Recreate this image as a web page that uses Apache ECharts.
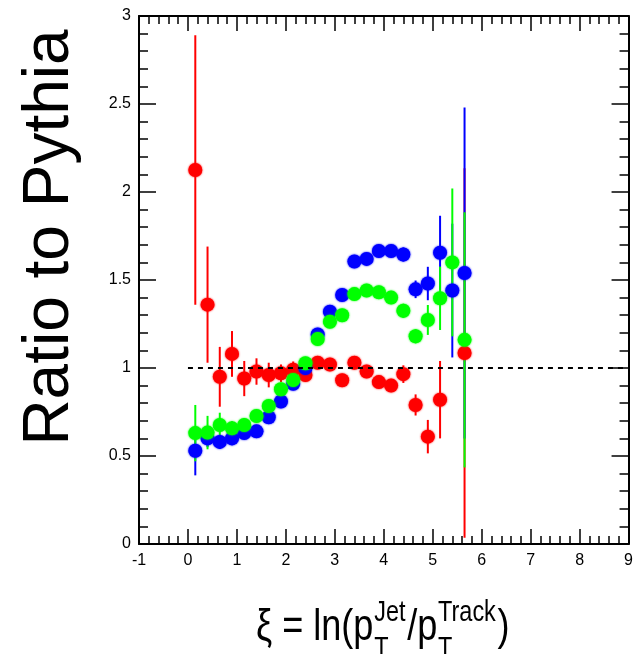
<!DOCTYPE html>
<html>
<head>
<meta charset="utf-8">
<script src="https://cdn.jsdelivr.net/npm/echarts@6/dist/echarts.min.js"></script>
<style>
html,body{margin:0;padding:0;background:#fff;}
#chart{width:636px;height:654px;}
</style>
</head>
<body>
<div id="chart"></div>
<script>
// ---- data ----
const xiBins = [0.15, 0.40, 0.65, 0.90, 1.15, 1.40, 1.65, 1.90, 2.15, 2.40, 2.65, 2.90,
                3.15, 3.40, 3.65, 3.90, 4.15, 4.40, 4.65, 4.90, 5.15, 5.40, 5.65];

const redRatio = [2.125, 1.36, 0.95, 1.08, 0.94, 0.98, 0.96, 0.97, 0.99, 0.96, 1.03, 1.02,
                  0.93, 1.03, 0.98, 0.92, 0.90, 0.965, 0.79, 0.61, 0.82, null, 1.085];
const redErr   = [0.765, 0.33, 0.17, 0.13, 0.10, 0.075, 0.07, 0.05, 0.047, 0.035, 0.035, 0.03,
                  0.03, 0.03, 0.03, 0.03, 0.03, 0.05, 0.06, 0.095, 0.22, null, 1.05];

const blueRatio = [0.53, 0.60, 0.58, 0.60, 0.63, 0.64, 0.72, 0.81, 0.91, 1.00, 1.19, 1.32,
                   1.415, 1.605, 1.62, 1.665, 1.665, 1.645, 1.447, 1.48, 1.655, 1.44, 1.54];
const blueErr   = [0.14, 0.05, 0.04, 0.03, 0.03, 0.03, 0.03, 0.03, 0.03, 0.03, 0.03, 0.03,
                   0.03, 0.03, 0.03, 0.03, 0.03, 0.04, 0.05, 0.095, 0.21, 0.38, 0.94];

const greenRatio = [0.63, 0.633, 0.676, 0.657, 0.676, 0.727, 0.784, 0.879, 0.932, 1.027, 1.165, 1.263,
                    1.30, 1.42, 1.44, 1.43, 1.40, 1.325, 1.18, 1.273, 1.396, 1.60, 1.16];
const greenErr   = [0.16, 0.095, 0.07, 0.04, 0.04, 0.03, 0.03, 0.03, 0.03, 0.03, 0.03, 0.03,
                    0.03, 0.03, 0.03, 0.03, 0.03, 0.04, 0.04, 0.085, 0.18, 0.42, 0.725];

const refLineX = [0, 9];
const refLineY = 1;

const xRange = [-1, 9];
const yRange = [0, 3];

// ---- helpers ----
const FONT = '"Liberation Sans", Arial, Helvetica, sans-serif';

function pts(vals) {
  const out = [];
  xiBins.forEach((x, i) => { if (vals[i] != null) out.push([x, vals[i]]); });
  return out;
}
function errs(vals, e) {
  const out = [];
  xiBins.forEach((x, i) => { if (vals[i] != null) out.push([x, vals[i], e[i]]); });
  return out;
}
function errSeries(vals, e, color) {
  return {
    type: 'custom',
    data: errs(vals, e),
    encode: { x: 0, y: 1 },
    renderItem: function (params, api) {
      const x = api.value(0), y = api.value(1), d = api.value(2);
      const hi = Math.min(y + d, yRange[1]);
      const lo = Math.max(y - d, yRange[0]);
      const p1 = api.coord([x, hi]);
      const p2 = api.coord([x, lo]);
      return {
        type: 'line',
        shape: { x1: p1[0], y1: p1[1], x2: p2[0], y2: p2[1] },
        style: { stroke: color, lineWidth: 2 }
      };
    },
    silent: true
  };
}
function ptSeries(vals, color) {
  return {
    type: 'scatter',
    data: pts(vals),
    symbol: 'circle',
    symbolSize: 14,
    itemStyle: { color: color, opacity: 1, shadowBlur: 2, shadowColor: color },
    silent: true
  };
}

// ---- x title layout (p_T with sub/superscripts) ----
const ctx = document.createElement('canvas').getContext('2d');
function tw(s, size) { ctx.font = size + 'px ' + FONT; return ctx.measureText(s).width; }
const F = 44, Fs = 28.6, sx = 0.82;
const baseMain = 643, baseSup = 623, baseSub = 659.5;
const mid = (base, size) => base - 0.3465 * size;
function txt(s, x, base, size) {
  return { type: 'text', x: x, y: mid(base, size),
    style: { text: s, fontSize: size, fontFamily: FONT, fill: '#000',
             align: 'left', textAlign: 'left', verticalAlign: 'middle', textVerticalAlign: 'middle' } };
}
const s1 = '\u03be = ln(p', s2 = '/p', s3 = ')';
let cx = 0;
const kids = [];
kids.push(txt(s1, cx, baseMain, F)); cx += tw(s1, F) + 1;
kids.push(txt('Jet', cx, baseSup, Fs)); kids.push(txt('T', cx, baseSub, Fs));
cx += Math.max(tw('Jet', Fs), tw('T', Fs)) + 2;
kids.push(txt(s2, cx, baseMain, F)); cx += tw(s2, F) + 1;
kids.push(txt('Track', cx, baseSup, Fs)); kids.push(txt('T', cx, baseSub, Fs));
cx += Math.max(tw('Track', Fs), tw('T', Fs)) + 2;
kids.push(txt(s3, cx, baseMain, F));

const axisCommon = {
  axisLine: { show: true, onZero: false, lineStyle: { color: '#000', width: 2 } },
  splitLine: { show: false },
  minorSplitLine: { show: false }
};

const chart = echarts.init(document.getElementById('chart'), null, { renderer: 'canvas' });
chart.setOption({
  animation: false,
  backgroundColor: '#fff',
  grid: { left: 139, right: 7, top: 16, bottom: 110, containLabel: false },
  xAxis: [
    Object.assign({}, axisCommon, {
      type: 'value', min: xRange[0], max: xRange[1], interval: 1, position: 'bottom',
      axisTick: { show: true, inside: true, length: 15, lineStyle: { color: '#000', width: 1.5 } },
      minorTick: { show: true, splitNumber: 5, length: 8, lineStyle: { color: '#000', width: 1.5 } },
      axisLabel: { show: true, fontSize: 16, color: '#000', fontFamily: FONT, margin: 9 }
    }),
    Object.assign({}, axisCommon, {
      type: 'value', min: xRange[0], max: xRange[1], interval: 1, position: 'top',
      axisTick: { show: true, inside: true, length: 15, lineStyle: { color: '#000', width: 1.5 } },
      minorTick: { show: true, splitNumber: 5, length: 8, lineStyle: { color: '#000', width: 1.5 } },
      axisLabel: { show: false }
    })
  ],
  yAxis: [
    Object.assign({}, axisCommon, {
      type: 'value', min: yRange[0], max: yRange[1], interval: 0.5, position: 'left',
      axisTick: { show: true, inside: true, length: 17, lineStyle: { color: '#000', width: 1.5 } },
      minorTick: { show: true, splitNumber: 5, length: 9, lineStyle: { color: '#000', width: 1.5 } },
      axisLabel: { show: true, fontSize: 16, color: '#000', fontFamily: FONT, margin: 8,
                   formatter: v => String(v) }
    }),
    Object.assign({}, axisCommon, {
      type: 'value', min: yRange[0], max: yRange[1], interval: 0.5, position: 'right',
      axisTick: { show: true, inside: true, length: 17, lineStyle: { color: '#000', width: 1.5 } },
      minorTick: { show: true, splitNumber: 5, length: 9, lineStyle: { color: '#000', width: 1.5 } },
      axisLabel: { show: false }
    })
  ],
  series: [
    errSeries(redRatio, redErr, '#ff0000'),
    ptSeries(redRatio, '#ff0000'),
    errSeries(blueRatio, blueErr, '#0000ff'),
    ptSeries(blueRatio, '#0000ff'),
    errSeries(greenRatio, greenErr, '#00ff00'),
    ptSeries(greenRatio, '#00ff00'),
    {
      type: 'line',
      data: refLineX.map(x => [x, refLineY]),
      symbol: 'none',
      lineStyle: { color: '#000', width: 2, type: [5, 5] },
      silent: true
    }
  ],
  graphic: [
    { type: 'text', x: 50.5, y: 237.5, rotation: Math.PI / 2,
      style: { text: 'Ratio to Pythia', fontSize: 64, fontFamily: FONT, fill: '#000',
               align: 'center', textAlign: 'center', verticalAlign: 'middle', textVerticalAlign: 'middle' } },
    { type: 'group', x: 256, y: 0, scaleX: sx, children: kids }
  ]
});
</script>
</body>
</html>
